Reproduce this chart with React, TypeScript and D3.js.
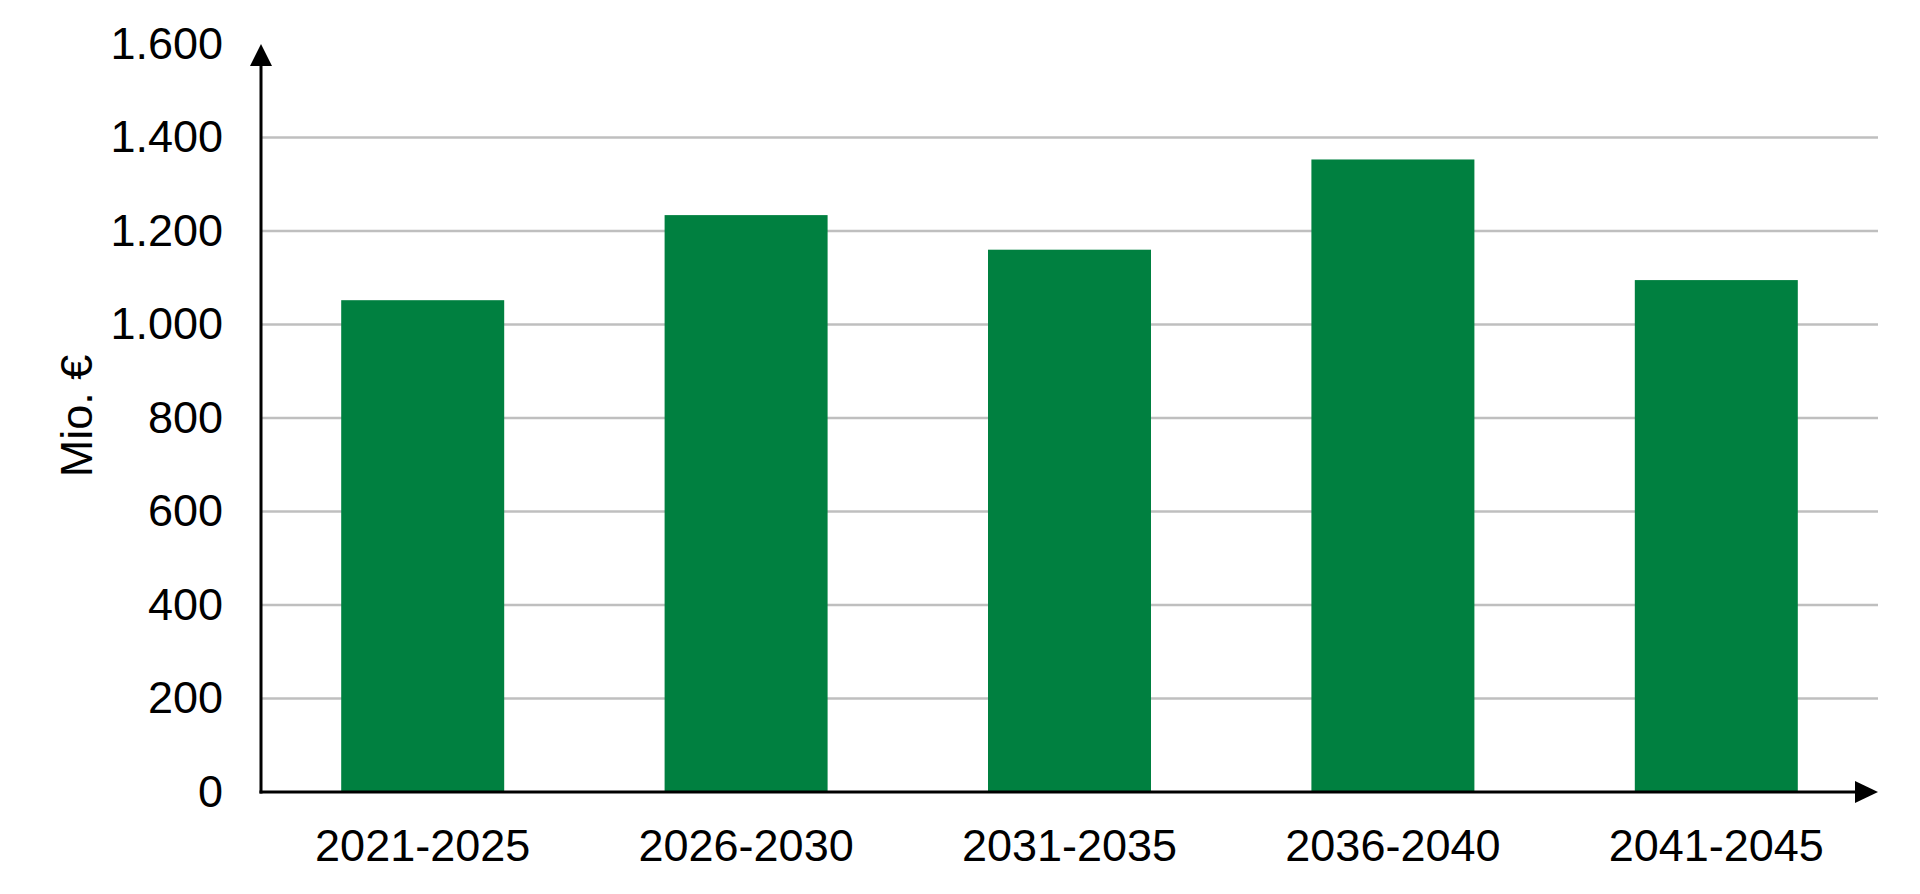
import React from "react";
import * as d3 from "d3";

const categories = ["2021-2025", "2026-2030", "2031-2035", "2036-2040", "2041-2045"];
const values = [1052, 1234, 1160, 1353, 1095];
const yTicks = [0, 200, 400, 600, 800, 1000, 1200, 1400, 1600];
const gridValues = [200, 400, 600, 800, 1000, 1200, 1400];
const yTitle = "Mio. €";

const W = 1920;
const H = 894;
const x0 = 261;
const x1 = 1878;
const yBase = 792;
const yTop = 44;

const fmt = (v: number) => d3.format(",")(v).replace(/,/g, ".");

export default function App() {
  const x = d3.scaleBand<string>().domain(categories).range([x0, x1]).paddingInner(0.496).paddingOuter(0.248);
  const y = d3.scaleLinear().domain([0, 1600]).range([yBase, yTop]);
  const font = "'Liberation Sans', Arial, sans-serif";
  return (
    <svg width={W} height={H} style={{ position: "absolute", left: 0, top: 0, display: "block" }} fontFamily={font}>
      <rect width={W} height={H} fill="#fff" />
      {gridValues.map((v) => (
        <line key={v} x1={x0} x2={x1} y1={y(v)} y2={y(v)} stroke="#bfbfbf" strokeWidth={2.5} />
      ))}
      {categories.map((c, i) => (
        <rect key={c} x={x(c)} y={y(values[i])} width={x.bandwidth()} height={y(0) - y(values[i])} fill="#008040" />
      ))}
      {/* y axis */}
      <line x1={x0} x2={x0} y1={yBase + 1.5} y2={yTop + 20} stroke="#000" strokeWidth={3} />
      <path d={`M${x0},${yTop} L${x0 - 11},${yTop + 22} L${x0 + 11},${yTop + 22} Z`} fill="#000" />
      {/* x axis */}
      <line x1={x0 - 1.5} x2={x1 - 20} y1={yBase} y2={yBase} stroke="#000" strokeWidth={3} />
      <path d={`M${x1},${yBase} L${x1 - 23},${yBase - 11} L${x1 - 23},${yBase + 11} Z`} fill="#000" />
      {yTicks.map((v) => (
        <text key={v} x={223} y={y(v)} dy="0.33em" textAnchor="end" fontSize={45} fill="#000">
          {fmt(v)}
        </text>
      ))}
      {categories.map((c) => (
        <text key={c} x={(x(c) as number) + x.bandwidth() / 2} y={861} textAnchor="middle" fontSize={45} fill="#000">
          {c}
        </text>
      ))}
      <text transform={`translate(76,416) rotate(-90)`} dy="0.36em" textAnchor="middle" fontSize={45} fill="#000">
        {yTitle}
      </text>
    </svg>
  );
}
